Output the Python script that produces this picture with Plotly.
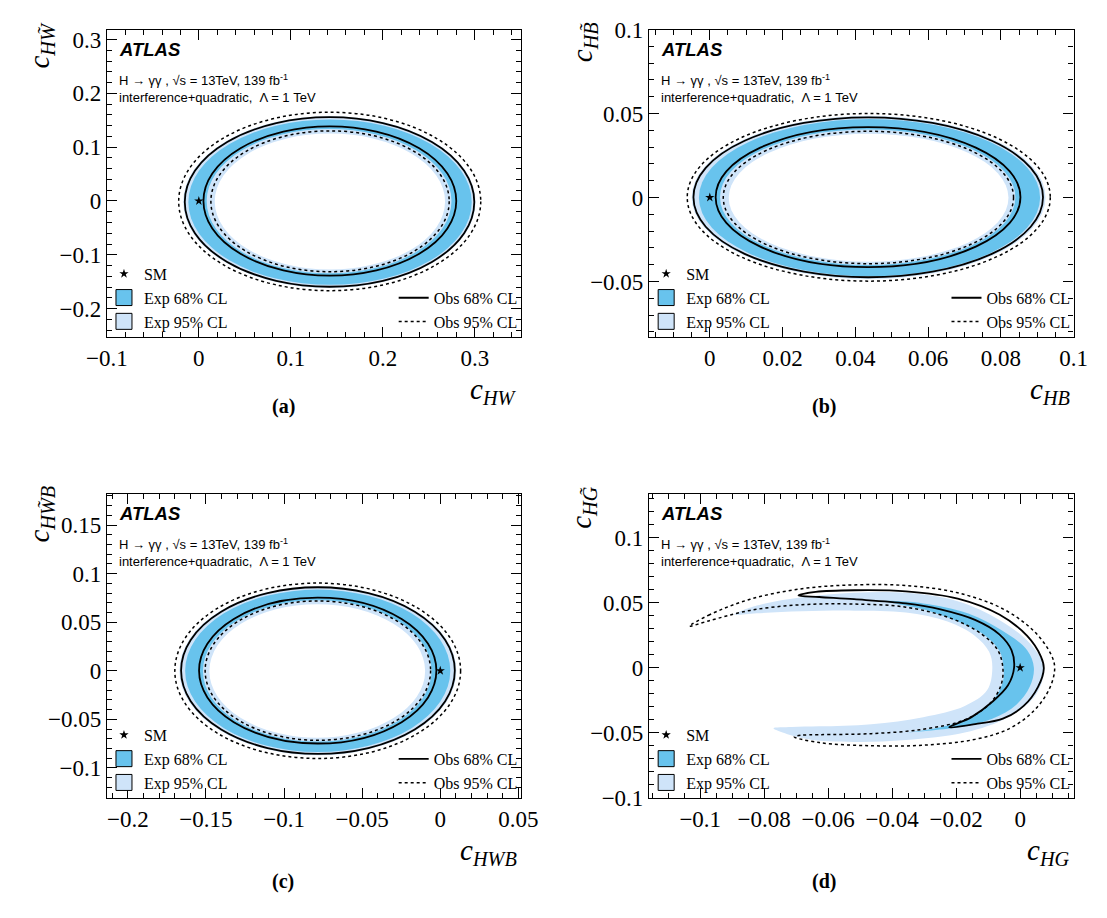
import plotly.graph_objects as go

# ---------------- data ----------------
SM_X = [0.0]
SM_Y = [0.0]

# Ring contours for panels a, b, c, in this order:
CONTOURS = ["Exp 95% outer", "Exp 68% outer", "Exp 68% inner", "Exp 95% inner",
            "Obs 68% outer", "Obs 68% inner", "Obs 95% outer", "Obs 95% inner"]

# (a) c_HW vs c_HWtilde
A_X_LOW = [-0.0170, -0.0114, 0.0085, 0.0173, -0.0153, 0.0050, -0.0219, 0.0131]
A_X_HIGH = [0.3009, 0.2967, 0.2747, 0.2677, 0.2995, 0.2799, 0.3065, 0.2722]
A_Y_LOW = [-0.1618, -0.1558, -0.1345, -0.1273, -0.1594, -0.1388, -0.1667, -0.1315]
A_Y_HIGH = [0.1580, 0.1515, 0.1340, 0.1255, 0.1558, 0.1388, 0.1650, 0.1303]

# (b) c_HB vs c_HBtilde
B_X_LOW = [-0.0050, -0.0030, 0.0028, 0.0052, -0.0045, 0.0016, -0.0062, 0.0037]
B_X_HIGH = [0.0923, 0.0908, 0.0840, 0.0821, 0.0916, 0.0854, 0.0936, 0.0835]
B_Y_LOW = [-0.0485, -0.0469, -0.0402, -0.0382, -0.0475, -0.0415, -0.0498, -0.0394]
B_Y_HIGH = [0.0486, 0.0467, 0.0405, 0.0380, 0.0477, 0.0419, 0.0500, 0.0394]

# (c) c_HWB vs c_HWtildeB
C_X_LOW = [-0.1670, -0.1633, -0.1519, -0.1478, -0.1659, -0.1544, -0.1699, -0.1505]
C_X_HIGH = [0.0103, 0.0064, -0.0056, -0.0097, 0.0093, -0.0025, 0.0130, -0.0062]
C_Y_LOW = [-0.0870, -0.0836, -0.0729, -0.0689, -0.0856, -0.0749, -0.0903, -0.0716]
C_Y_HIGH = [0.0870, 0.0836, 0.0726, 0.0686, 0.0860, 0.0753, 0.0903, 0.0719]

# (d) c_HG vs c_HGtilde : crescent-shaped closed contours
D_EXP95_X = [-0.0893, -0.0823, -0.0682, -0.0519, -0.0357, -0.0195, -0.0065, 0.0032, 0.0074,
             0.0049, -0.0038, -0.0173, -0.0357, -0.0519, -0.0671, -0.0771,
             -0.0714, -0.0628, -0.0465, -0.0303, -0.0173, -0.0103, -0.0087, -0.0097,
             -0.0141, -0.0227, -0.0357, -0.0519, -0.0682, -0.0823, -0.0893]
D_EXP95_Y = [0.0409, 0.0478, 0.0542, 0.0576, 0.0576, 0.0512, 0.0368, 0.0184, 0.0,
             -0.0208, -0.0380, -0.0498, -0.0556, -0.0571, -0.0547, -0.0466,
             -0.0456, -0.0451, -0.0434, -0.0380, -0.0294, -0.0172, 0.0, 0.0123,
             0.0245, 0.0355, 0.0424, 0.0439, 0.0434, 0.0419, 0.0409]

D_EXP68_X = [-0.0422, -0.0303, -0.0162, -0.0054, 0.0022, 0.0043, 0.0030, -0.0011, -0.0087,
             -0.0195, -0.0357, -0.0281, -0.0162, -0.0087, -0.0054, -0.0052, -0.0063,
             -0.0108, -0.0195, -0.0303, -0.0422]
D_EXP68_Y = [0.0512, 0.0495, 0.0417, 0.0282, 0.0135, 0.0, -0.0147, -0.0282, -0.0392,
             -0.0458, -0.0498, -0.0473, -0.0392, -0.0257, -0.0110, 0.0, 0.0123,
             0.0245, 0.0355, 0.0449, 0.0512]

D_OBS68_X = [-0.0693, -0.0639, -0.0519, -0.0357, -0.0195, -0.0065, 0.0022, 0.0065, 0.0074,
             0.0056, 0.0011, -0.0054, -0.0141, -0.0222,
             -0.0152, -0.0087, -0.0038, -0.0019, -0.0027, -0.0065, -0.0141, -0.0249,
             -0.0357, -0.0519, -0.0628, -0.0693]
D_OBS68_Y = [0.0556, 0.0583, 0.0596, 0.0588, 0.0532, 0.0409, 0.0245, 0.0086, -0.0007,
             -0.0147, -0.0294, -0.0392, -0.0434, -0.0458,
             -0.0380, -0.0262, -0.0135, 0.0, 0.0135, 0.0257, 0.0368, 0.0449,
             0.0495, 0.0527, 0.0544, 0.0556]

D_OBS95_X = [-0.1034, -0.0974, -0.0844, -0.0682, -0.0519, -0.0357, -0.0195, -0.0054, 0.0043,
             0.0095, 0.0108, 0.0092, 0.0043, -0.0032, -0.0141, -0.0303, -0.0465, -0.0628,
             -0.0706, -0.0687, -0.0628, -0.0465, -0.0303, -0.0173, -0.0097, -0.0060,
             -0.0054, -0.0070, -0.0119, -0.0216, -0.0357, -0.0519, -0.0682, -0.0844,
             -0.0974, -0.1034]
D_OBS95_Y = [0.0319, 0.0404, 0.0527, 0.0608, 0.0637, 0.0632, 0.0576, 0.0453, 0.0282,
             0.0110, 0.0, -0.0159, -0.0331, -0.0466, -0.0551, -0.0596, -0.0600, -0.0576,
             -0.0532, -0.0520, -0.0515, -0.0507, -0.0473, -0.0400, -0.0282, -0.0135,
             0.0, 0.0135, 0.0257, 0.0380, 0.0466, 0.0490, 0.0485, 0.0441,
             0.0360, 0.0319]

# axis ranges, ticks and titles
X_RANGES = [[-0.1, 0.35], [-0.0167, 0.1], [-0.2134, 0.0515], [-0.116, 0.0167]]
Y_RANGES = [[-0.2526, 0.3187], [-0.083, 0.1], [-0.131, 0.1825], [-0.1002, 0.134]]
X_DTICK = [0.1, 0.02, 0.05, 0.02]
X_MINOR = [0.02, 0.005, 0.01, 0.005]
Y_DTICK = [0.1, 0.05, 0.05, 0.05]
Y_MINOR = [0.02, 0.01, 0.01, 0.01]
X_TITLES = ["<i>c</i><sub><i>HW</i></sub>", "<i>c</i><sub><i>HB</i></sub>",
            "<i>c</i><sub><i>HWB</i></sub>", "<i>c</i><sub><i>HG</i></sub>"]
Y_TITLES = ["<i>c</i><sub><i>HW\u0303</i></sub>", "<i>c</i><sub><i>HB\u0303</i></sub>",
            "<i>c</i><sub><i>HW\u0303B</i></sub>", "<i>c</i><sub><i>HG\u0303</i></sub>"]
PANEL_LABELS = ["(a)", "(b)", "(c)", "(d)"]

# ---------------- style / layout ----------------
W, H = 1107, 918
LIGHT = "#cfe4f9"
MED = "#68c3ed"
SERIF = "Liberation Serif"
SANS = "Liberation Sans"
DOT = "3px,3px"
# frames in pixels: left, right, top, bottom
FRAMES = [(89, 518, 18, 334), (651, 1091, 18, 334), (89, 518, 495, 808), (651, 1091, 495, 808)]
LABEL_POS = [(272, 406), (832, 406), (272, 894), (832, 894)]


def fx(p):
    return p / W


def fy(p):
    return 1 - p / H


fig = go.Figure()
layout = dict(width=W, height=H, margin=dict(l=0, r=0, t=0, b=0),
              paper_bgcolor="white", plot_bgcolor="white", showlegend=True)
shapes = []
annotations = []

RINGS = [(A_X_LOW, A_X_HIGH, A_Y_LOW, A_Y_HIGH),
         (B_X_LOW, B_X_HIGH, B_Y_LOW, B_Y_HIGH),
         (C_X_LOW, C_X_HIGH, C_Y_LOW, C_Y_HIGH)]

for i in range(4):
    s = "" if i == 0 else str(i + 1)
    xr, yr = "x" + s, "y" + s
    L, R, T, B = FRAMES[i]
    leg_left = "legend" if i == 0 else "legend%d" % (2 * i + 1)
    leg_right = "legend%d" % (2 * i + 2)

    common = dict(ticks="inside", mirror="allticks", showline=True, linecolor="black",
                  linewidth=1.2, tickcolor="black", tickwidth=1, showgrid=False,
                  zeroline=False, fixedrange=True, tick0=0,
                  tickfont=dict(family=SERIF, size=23, color="black"))
    layout["xaxis" + s] = dict(common, domain=[fx(L), fx(R)], anchor=yr, range=X_RANGES[i],
                               dtick=X_DTICK[i], ticklen=10,
                               minor=dict(dtick=X_MINOR[i], tick0=0, ticks="inside", ticklen=5,
                                          tickcolor="black", showgrid=False))
    layout["yaxis" + s] = dict(common, domain=[fy(B), fy(T)], anchor=xr, range=Y_RANGES[i],
                               dtick=Y_DTICK[i], ticklen=10,
                               minor=dict(dtick=Y_MINOR[i], tick0=0, ticks="inside", ticklen=5,
                                          tickcolor="black", showgrid=False))

    if i < 3:
        xl, xh, yl, yh = RINGS[i]
        for k, col in [(0, LIGHT), (1, MED), (2, LIGHT), (3, "white")]:
            shapes.append(dict(type="circle", xref=xr, yref=yr, x0=xl[k], x1=xh[k],
                               y0=yl[k], y1=yh[k], fillcolor=col, line=dict(width=0),
                               layer="below"))
        for k, dash, wd in [(4, "solid", 1.8), (5, "solid", 1.8), (6, DOT, 1.5), (7, DOT, 1.5)]:
            shapes.append(dict(type="circle", xref=xr, yref=yr, x0=xl[k], x1=xh[k],
                               y0=yl[k], y1=yh[k], fillcolor="rgba(0,0,0,0)",
                               line=dict(color="black", width=wd, dash=dash), layer="below"))
    else:
        fig.add_trace(go.Scatter(x=D_EXP95_X, y=D_EXP95_Y, xaxis=xr, yaxis=yr, mode="lines",
                                 fill="toself", fillcolor=LIGHT, line=dict(width=0, shape="spline"),
                                 showlegend=False, hoverinfo="skip"))
        fig.add_trace(go.Scatter(x=D_EXP68_X, y=D_EXP68_Y, xaxis=xr, yaxis=yr, mode="lines",
                                 fill="toself", fillcolor=MED, line=dict(width=0, shape="spline"),
                                 showlegend=False, hoverinfo="skip"))
        fig.add_trace(go.Scatter(x=D_OBS68_X, y=D_OBS68_Y, xaxis=xr, yaxis=yr, mode="lines",
                                 line=dict(color="black", width=1.8, shape="spline"),
                                 showlegend=False, hoverinfo="skip"))
        fig.add_trace(go.Scatter(x=D_OBS95_X, y=D_OBS95_Y, xaxis=xr, yaxis=yr, mode="lines",
                                 line=dict(color="black", width=1.5, dash=DOT, shape="spline"),
                                 showlegend=False, hoverinfo="skip"))

    # SM point + legend entries
    fig.add_trace(go.Scatter(x=SM_X, y=SM_Y, xaxis=xr, yaxis=yr, mode="markers",
                             marker=dict(symbol="star", size=7, color="black"),
                             name="SM", legend=leg_left))
    fig.add_trace(go.Scatter(x=[None], y=[None], xaxis=xr, yaxis=yr, mode="markers",
                             marker=dict(symbol="square", size=16, color=MED,
                                         line=dict(color="black", width=1)),
                             name="Exp 68% CL", legend=leg_left))
    fig.add_trace(go.Scatter(x=[None], y=[None], xaxis=xr, yaxis=yr, mode="markers",
                             marker=dict(symbol="square", size=16, color=LIGHT,
                                         line=dict(color="black", width=1)),
                             name="Exp 95% CL", legend=leg_left))
    fig.add_trace(go.Scatter(x=[None], y=[None], xaxis=xr, yaxis=yr, mode="lines",
                             line=dict(color="black", width=1.8),
                             name="Obs 68% CL", legend=leg_right))
    fig.add_trace(go.Scatter(x=[None], y=[None], xaxis=xr, yaxis=yr, mode="lines",
                             line=dict(color="black", width=1.5, dash=DOT),
                             name="Obs 95% CL", legend=leg_right))

    legfont = dict(family=SERIF, size=16, color="black")
    layout[leg_left] = dict(x=fx(L - 3), y=fy(B + 2), xanchor="left", yanchor="bottom",
                            bgcolor="rgba(0,0,0,0)", borderwidth=0, font=legfont,
                            tracegroupgap=0, itemwidth=30)
    layout[leg_right] = dict(x=fx(R + 2), y=fy(B + 2), xanchor="right", yanchor="bottom",
                             bgcolor="rgba(0,0,0,0)", borderwidth=0, font=legfont,
                             tracegroupgap=0, itemwidth=30)

    # texts
    annotations.append(dict(text="<b><i>ATLAS</i></b>", x=fx(L + 10), y=fy(T + 21),
                            xref="paper", yref="paper", xanchor="left", yanchor="middle",
                            showarrow=False, font=dict(family=SANS, size=18.5, color="black")))
    annotations.append(dict(text="H \u2192 \u03b3\u03b3 , \u221as = 13TeV, 139 fb<sup>-1</sup>",
                            x=fx(L + 10), y=fy(T + 52), xref="paper", yref="paper",
                            xanchor="left", yanchor="middle", showarrow=False,
                            font=dict(family=SANS, size=13, color="black")))
    annotations.append(dict(text="interference+quadratic,\u00a0\u00a0\u039b = 1 TeV",
                            x=fx(L + 10), y=fy(T + 70), xref="paper", yref="paper",
                            xanchor="left", yanchor="middle", showarrow=False,
                            font=dict(family=SANS, size=13, color="black")))
    annotations.append(dict(text=X_TITLES[i], x=fx(R - 2), y=fy(B + 35), xref="paper",
                            yref="paper", xanchor="right", yanchor="top", showarrow=False,
                            font=dict(family=SERIF, size=29, color="black")))
    annotations.append(dict(text=Y_TITLES[i], x=fx(L - 68), y=fy(T - 10), xref="paper",
                            yref="paper", xanchor="center", yanchor="top", textangle=-90,
                            showarrow=False, font=dict(family=SERIF, size=29, color="black")))
    lx, ly = LABEL_POS[i]
    annotations.append(dict(text="<b>" + PANEL_LABELS[i] + "</b>", x=fx(lx), y=fy(ly),
                            xref="paper", yref="paper", xanchor="center", yanchor="middle",
                            showarrow=False, font=dict(family=SERIF, size=20, color="black")))

layout["shapes"] = shapes
layout["annotations"] = annotations
fig.update_layout(**layout)
fig.write_html("out.html", config={"displayModeBar": False},
               post_script="document.body.style.margin='0';document.body.style.padding='0';"
                           "document.body.style.overflow='hidden';")
